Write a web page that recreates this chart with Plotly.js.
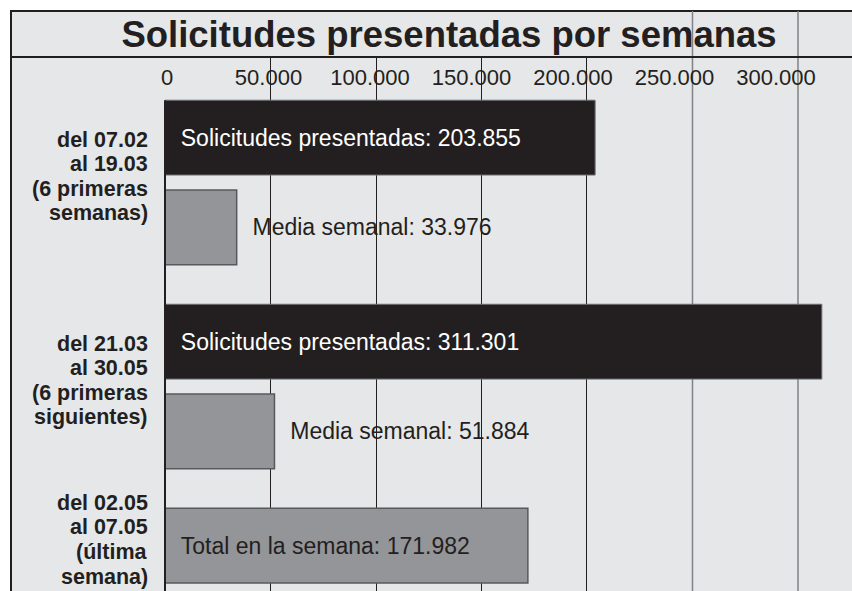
<!DOCTYPE html>
<html>
<head>
<meta charset="utf-8">
<script src="https://cdn.plot.ly/plotly-3.0.1.min.js"></script>
<style>html,body{margin:0;padding:0;background:#fff;}#chart{width:852px;height:591px;}</style>
</head>
<body>
<div id="chart"></div>
<script>
// ---- data ----
const categories = [
  'del 07.02<br>al 19.03<br>(6 primeras<br>semanas)',
  'del 21.03<br>al 30.05<br>(6 primeras<br>siguientes)',
  'del 02.05<br>al 07.05<br>(última<br>semana)'
];
const solicitudesName = 'Solicitudes presentadas';
const solicitudes = [203855, 311301, null];
const mediaName = 'Media semanal';
const mediaSemanal = [33976, 51884, null];
const totalName = 'Total en la semana';
const totalSemana = [null, null, 171982];
const xTickVals = [0, 50000, 100000, 150000, 200000, 250000, 300000];
const xTickText = ['0', '50.000', '100.000', '150.000', '200.000', '250.000', '300.000'];

// ---- styling ----
const W = 852, H = 591;
const FONT = 'Liberation Sans, Arial, Helvetica, sans-serif';
const INK = '#231f20';
const BG = '#e6e7e8';
const GREY = '#939598';
const NB = '\u00a0\u00a0';
const px = v => v / W;
const py = v => 1 - v / H;

const darkGrid = xTickVals.filter(v => v > 0 && v <= 200000);
const lightGrid = xTickVals.filter(v => v > 200000);

const BARGAP = 0.12, BARGROUPGAP = 0.1667;
const PLOT_TOP = 57, PLOT_BOTTOM = 591;
const Y_RANGE = [2.002, -0.6151];
const pxPerCat = (PLOT_BOTTOM - PLOT_TOP) / (Y_RANGE[0] - Y_RANGE[1]);
const slotUnits = (1 - BARGAP) / 2;
const slotPx = slotUnits * pxPerCat;
// top edge of the first bar row (category units)
const firstBarTop = -(1 - BARGAP) / 2 + slotUnits * BARGROUPGAP / 2;

const traces = [
  {
    type: 'bar', orientation: 'h', name: solicitudesName,
    x: solicitudes, y: categories,
    offsetgroup: '1', alignmentgroup: 'a',
    marker: {color: INK, line: {color: '#6d6e71', width: 1}},
    texttemplate: NB + solicitudesName + ': %{x:,.0f}',
    textposition: 'inside', insidetextanchor: 'start', textangle: 0,
    constraintext: 'none',
    insidetextfont: {family: FONT, size: 23, color: '#ffffff'},
    hoverinfo: 'skip'
  },
  {
    type: 'bar', orientation: 'h', name: mediaName,
    x: mediaSemanal, y: categories,
    offsetgroup: '2', alignmentgroup: 'a',
    marker: {color: GREY, line: {color: '#58595b', width: 1.5}},
    texttemplate: NB + mediaName + ': %{x:,.0f}',
    textposition: 'outside', textangle: 0, cliponaxis: false,
    constraintext: 'none',
    outsidetextfont: {family: FONT, size: 23, color: INK},
    hoverinfo: 'skip'
  },
  {
    type: 'bar', orientation: 'h', name: totalName,
    x: totalSemana, y: categories,
    offsetgroup: '1', alignmentgroup: 'a',
    marker: {color: GREY, line: {color: '#58595b', width: 1.5}},
    texttemplate: NB + totalName + ': %{x:,.0f}',
    textposition: 'inside', insidetextanchor: 'start', textangle: 0,
    constraintext: 'none',
    insidetextfont: {family: FONT, size: 23, color: INK},
    hoverinfo: 'skip'
  },
  {
    type: 'scatter', mode: 'markers', xaxis: 'x2', yaxis: 'y',
    x: [xTickVals[0]], y: [categories[0]],
    marker: {opacity: 0, size: 1}, hoverinfo: 'skip', showlegend: false
  }
];

// category labels: centred on the bars present in each category
const LABEL_SIZE = 21.5, LINE_H = 24.6, NUDGE = 6;
const annotations = [];
categories.forEach((cat, i) => {
  const offs = [];
  if (solicitudes[i] != null || totalSemana[i] != null) offs.push(-0.5);
  if (mediaSemanal[i] != null) offs.push(0.5);
  const meanOff = offs.reduce((a, b) => a + b, 0) / offs.length;
  const baseShift = -meanOff * slotPx + NUDGE;
  const lines = cat.split('<br>');
  const n = lines.length;
  lines.forEach((ln, j) => {
    annotations.push({
      xref: 'paper', x: px(148), xanchor: 'right',
      yref: 'y', y: cat, yanchor: 'middle',
      yshift: baseShift + ((n - 1) / 2 - j) * LINE_H,
      text: ln, showarrow: false, align: 'right',
      borderpad: 0, borderwidth: 0,
      font: {family: FONT, size: LABEL_SIZE, weight: 'bold', color: INK}
    });
  });
});

const shapes = [
  {type: 'rect', xref: 'paper', yref: 'paper', x0: px(11), x1: 1.05, y0: -0.05, y1: py(11),
   fillcolor: BG, line: {color: INK, width: 2}, layer: 'below'}
].concat(lightGrid.map(v => ({
  type: 'line', xref: 'x', yref: 'paper', x0: v, x1: v, y0: -0.05, y1: py(11),
  line: {color: '#808285', width: 1.5}, layer: 'below'
}))).concat([
  {type: 'line', xref: 'paper', yref: 'paper', x0: px(11), x1: 1.05, y0: py(PLOT_TOP), y1: py(PLOT_TOP),
   line: {color: INK, width: 2}, layer: 'below'},
  // value-axis base line, starting at the top of the first bar
  {type: 'line', xref: 'x domain', x0: 0, x1: 0, yref: 'y', y0: firstBarTop, y1: Y_RANGE[0] + 1,
   line: {color: INK, width: 2}, layer: 'above'}
]);

const layout = {
  width: W, height: H,
  margin: {l: 0, r: 0, t: 0, b: 0, pad: 0},
  paper_bgcolor: '#ffffff',
  plot_bgcolor: 'rgba(0,0,0,0)',
  separators: ',.',
  showlegend: false,
  font: {family: FONT, color: INK},
  title: {
    text: 'Solicitudes presentadas por semanas',
    font: {family: FONT, size: 36.5, weight: 'bold', color: INK},
    xref: 'container', yref: 'container',
    x: px(449), xanchor: 'center', y: py(34), yanchor: 'middle'
  },
  barmode: 'group', bargap: BARGAP, bargroupgap: BARGROUPGAP,
  xaxis: {
    domain: [px(165), 1], range: [0, 325600],
    tickvals: darkGrid, showticklabels: false, ticks: '',
    showgrid: true, gridcolor: INK, gridwidth: 1,
    zeroline: false, showline: false, fixedrange: true
  },
  xaxis2: {
    domain: [px(167), px(776)], range: [0, 300000],
    anchor: 'free', position: py(89), side: 'top',
    tickvals: xTickVals, ticktext: xTickText, ticks: '',
    tickfont: {family: FONT, size: 22, color: INK},
    showgrid: false, zeroline: false, showline: false, fixedrange: true
  },
  yaxis: {
    domain: [0, py(PLOT_TOP)],
    type: 'category', categoryorder: 'array', categoryarray: categories,
    range: Y_RANGE,
    showline: false, ticks: '', showticklabels: false,
    showgrid: false, zeroline: false, fixedrange: true, automargin: false
  },
  annotations: annotations,
  shapes: shapes
};

Plotly.newPlot('chart', traces, layout, {displayModeBar: false, staticPlot: true});
</script>
</body>
</html>
